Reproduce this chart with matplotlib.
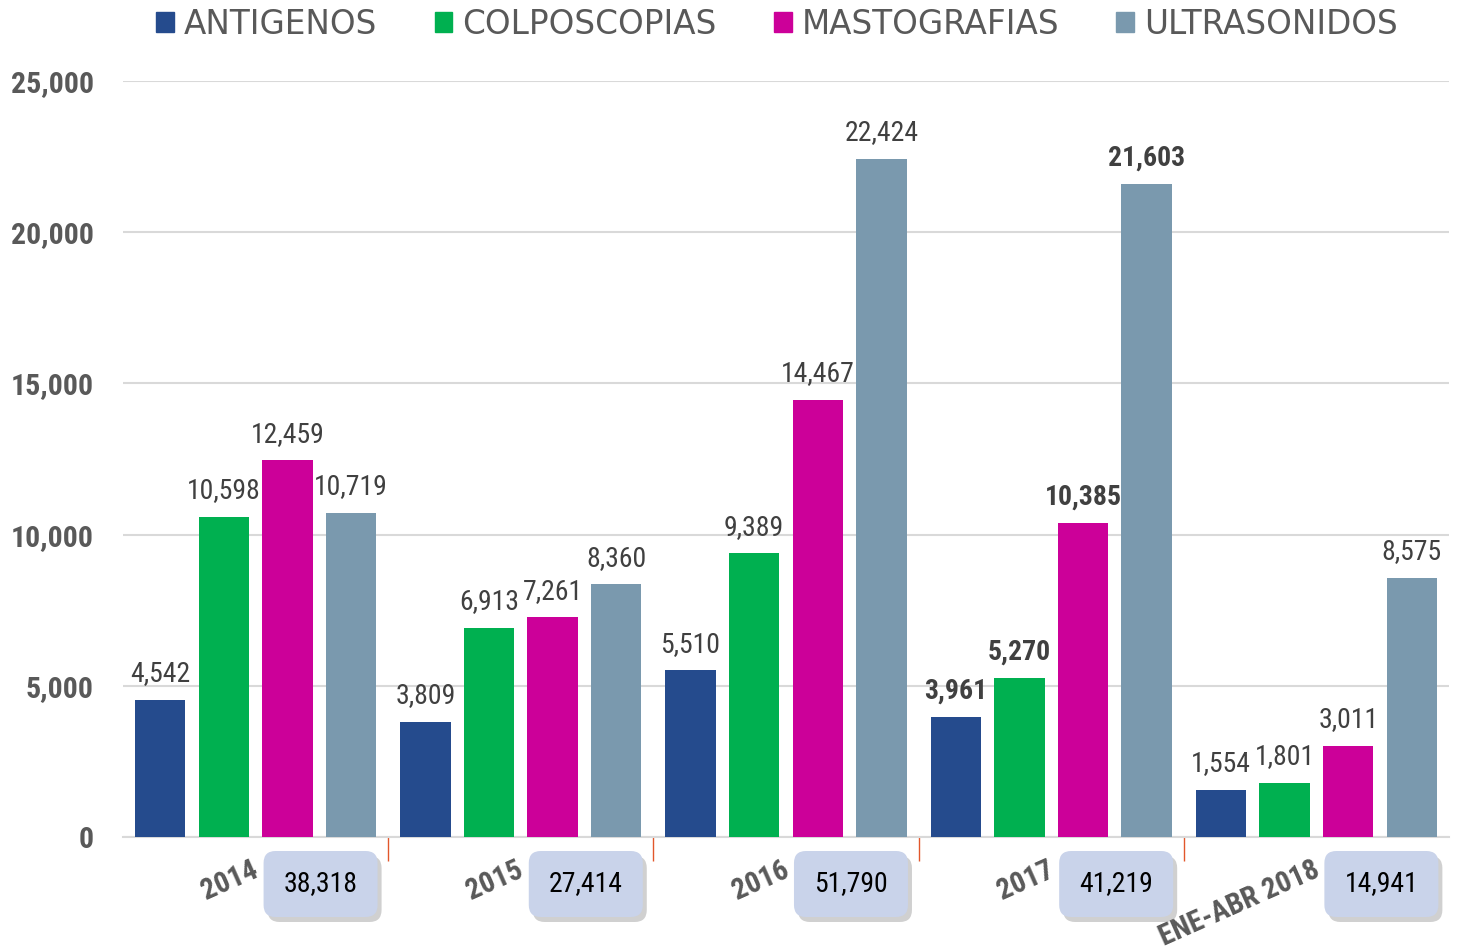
import matplotlib
matplotlib.use("Agg")
import matplotlib.pyplot as plt
from matplotlib.patches import FancyBboxPatch, Patch
from matplotlib.transforms import IdentityTransform
import numpy as np

# --------------------- datos ---------------------
categories = ["2014", "2015", "2016", "2017", "ENE-ABR 2018"]
antigenos = [4542, 3809, 5510, 3961, 1554]
colposcopias = [10598, 6913, 9389, 5270, 1801]
mastografias = [12459, 7261, 14467, 10385, 3011]
ultrasonidos = [10719, 8360, 22424, 21603, 8575]
totales = [38318, 27414, 51790, 41219, 14941]
series_names = ["ANTIGENOS", "COLPOSCOPIAS", "MASTOGRAFIAS", "ULTRASONIDOS"]
yticks = [0, 5000, 10000, 15000, 20000, 25000]

colors = ["#254B8D", "#00B050", "#CC0099", "#7A99AE"]
narrow = ["Roboto Condensed", "DejaVu Sans"]
gray_txt = "#595959"
lab_txt = "#404040"

W, H = 1461, 951
fig = plt.figure(figsize=(W / 100, H / 100), dpi=100)
ax = fig.add_axes([123 / W, 1 - 837 / H, 1326 / W, 756 / H])

x = np.arange(len(categories))
offsets = [-0.36, -0.12, 0.12, 0.36]
width = 0.19
series = [antigenos, colposcopias, mastografias, ultrasonidos]

for k, (vals, col, name) in enumerate(zip(series, colors, series_names)):
    bars = ax.bar(x + offsets[k], vals, width, color=col, label=name, zorder=3)
    for i, (b, v) in enumerate(zip(bars, vals)):
        ax.annotate(f"{v:,}", (b.get_x() + b.get_width() / 2, v),
                    xytext=(0, 9), textcoords="offset points",
                    ha="center", va="bottom", fontsize=20,
                    family=narrow, color=lab_txt,
                    fontweight="bold" if i == 3 else "normal")

ax.set_xlim(-0.5, len(categories) - 0.5)
ax.set_ylim(0, 25000)
ax.set_yticks(yticks)
ax.set_yticklabels([f"{t:,}" for t in yticks], family=narrow,
                   fontsize=21.5, fontweight="bold", color=gray_txt)
ax.tick_params(axis="y", length=0, pad=21)

# separadores entre grupos
ax.set_xticks(x)
ax.set_xticklabels([])
ax.set_xticks(x[:-1] + 0.5, minor=True)
ax.tick_params(axis="x", which="major", length=0)
ax.tick_params(axis="x", which="minor", length=17, width=1, color="#E2572B")

ax.yaxis.grid(True, color="#D9D9D9", lw=1.5, zorder=0)
ax.set_axisbelow(True)
for s in ["top", "right", "left"]:
    ax.spines[s].set_visible(False)
ax.spines["bottom"].set_color("#D9D9D9")
ax.spines["bottom"].set_linewidth(1.5)

# etiquetas de categoría (rotadas)
for i, c in enumerate(categories):
    ax.text(i + 0.005, -0.042, c, transform=ax.get_xaxis_transform(),
            ha="right", va="center", rotation=24, rotation_mode="anchor",
            fontsize=21, fontweight="bold", family=narrow, color=gray_txt)

# cajas de totales
fig.canvas.draw()
for i, t in enumerate(totales):
    cx = ax.transData.transform((i + 0.245, 0))[0]
    bx, by, bw, bh = cx - 57, H - 917, 114, 66
    shadow = FancyBboxPatch((bx + 4, by - 5), bw, bh,
                            boxstyle="round,pad=0,rounding_size=12",
                            transform=IdentityTransform(), fc="#8A8A8A",
                            ec="none", alpha=0.4)
    box = FancyBboxPatch((bx, by), bw, bh,
                         boxstyle="round,pad=0,rounding_size=12",
                         transform=IdentityTransform(), fc="#C9D3EA", ec="none")
    fig.add_artist(shadow)
    fig.add_artist(box)
    fig.text(cx / W, (by + bh / 2) / H, f"{t:,}", ha="center", va="center",
             fontsize=20, family=narrow, color="black")

# leyenda
handles = [Patch(color=c, label=n) for c, n in zip(colors, series_names)]
fig.legend(handles=handles, loc="center", bbox_to_anchor=(777 / W, 1 - 24 / H),
           ncol=4, frameon=False, handlelength=0.55, handleheight=0.55,
           handletextpad=0.3, columnspacing=1.75, labelcolor=gray_txt,
           prop={"family": ["DejaVu Sans"], "size": 23.5})

fig.savefig("out.png", dpi=100)
